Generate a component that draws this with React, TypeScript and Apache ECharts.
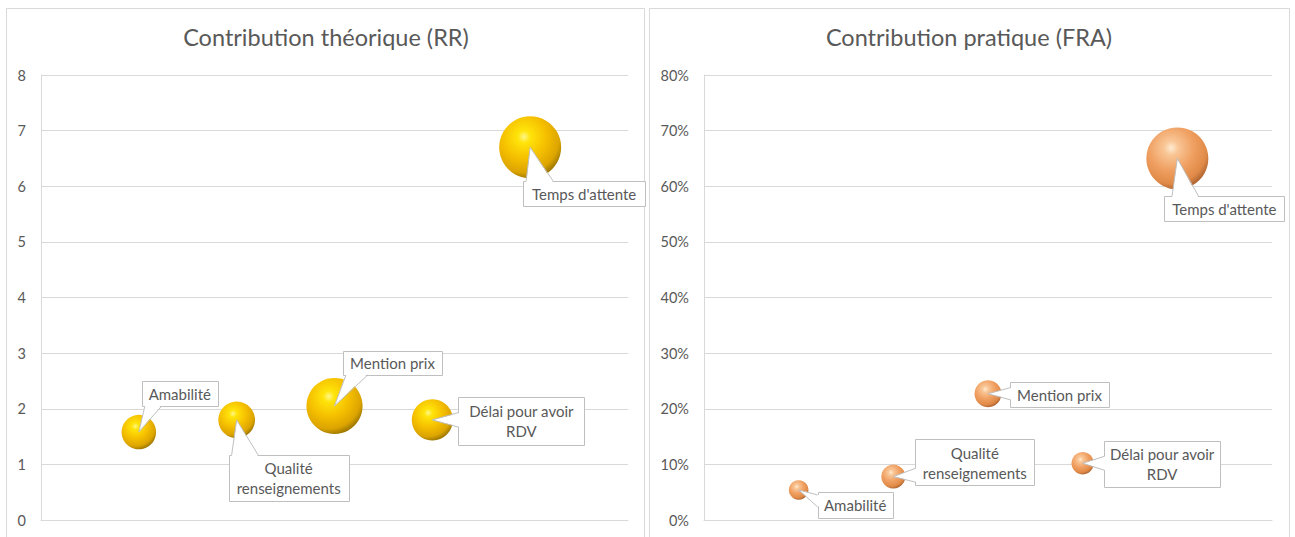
import React, { useEffect, useRef } from 'react';
import * as echarts from 'echarts';

// ---- Data ----
const categories = ['Amabilité', 'Qualité\nrenseignements', 'Mention prix', 'Délai pour avoir\nRDV', "Temps d'attente"];
const xPositions = [1, 2, 3, 4, 5];
const rrValues = [1.58, 1.8, 2.05, 1.8, 6.7];
const rrSizes = [31, 35, 82, 44, 100];
const fraValues = [0.054, 0.078, 0.227, 0.102, 0.65];
const fraSizes = [10, 15, 19, 13, 100];
const rrTitle = 'Contribution théorique (RR)';
const fraTitle = 'Contribution pratique (FRA)';

// ---- Layout (callout offsets from bubble centre: dx, dy, width, height) ----
const rrCallouts = [[41, -38.5, 76, 25], [52, 58, 120, 46], [58, -43, 99, 24], [89, 1, 126, 48], [54, 46, 122, 25]];
const fraCallouts = [[56.5, 15, 75, 26], [81.5, -14.5, 119, 46], [71.5, 0.5, 99, 25], [79.5, 0.5, 116, 46], [47, 50, 120, 25]];

const FONT = 'Lato, "Open Sans", sans-serif';
const TEXT = '#595959';
const LINE = '#D9D9D9';
const MAX_D = 62;

const gold = {
  type: 'radial', x: 0.4, y: 0.33, r: 0.72,
  colorStops: [
    { offset: 0, color: '#FFF78A' },
    { offset: 0.14, color: '#FFE40A' },
    { offset: 0.5, color: '#F5BF00' },
    { offset: 0.8, color: '#DCA400' },
    { offset: 0.95, color: '#9E7800' },
    { offset: 1, color: '#C09600' },
  ],
};
const orange = {
  type: 'radial', x: 0.4, y: 0.33, r: 0.72,
  colorStops: [
    { offset: 0, color: '#FFEBD2' },
    { offset: 0.16, color: '#F9C696' },
    { offset: 0.5, color: '#F0A062' },
    { offset: 0.8, color: '#E08A48' },
    { offset: 0.95, color: '#B06632' },
    { offset: 1, color: '#CC8450' },
  ],
};

const clamp = (v: number, a: number, b: number) => Math.max(a, Math.min(b, v));

function makeCallout(layout: number[][]) {
  return (params: any, api: any) => {
    const idx = params.dataIndex;
    const [px, py] = api.coord([api.value(0), api.value(1)]);
    const [dx, dy, w, h] = layout[idx];
    const cx = px + dx, cy = py + dy;
    const x0 = cx - w / 2, y0 = cy - h / 2, x1 = cx + w / 2, y1 = cy + h / 2;
    const rx = (px - cx) / (w / 2), ry = (py - cy) / (h / 2);
    let b1: number[], b2: number[], n: number[];
    if (Math.abs(rx) > Math.abs(ry)) {
      const ex = rx < 0 ? x0 : x1;
      const half = clamp(h * 0.3, 12, 30) / 2;
      const c = clamp(py, y0 + half + 3, y1 - half - 3);
      b1 = [ex, c - half]; b2 = [ex, c + half];
      n = [rx < 0 ? 1.5 : -1.5, 0];
    } else {
      const ey = ry < 0 ? y0 : y1;
      const half = clamp(w * 0.22, 16, 34) / 2;
      const c = clamp(px + half * 0.6, x0 + half + 3, x1 - half - 3);
      b1 = [c - half, ey]; b2 = [c + half, ey];
      n = [0, ry < 0 ? 1.5 : -1.5];
    }
    return {
      type: 'group',
      children: [
        { type: 'rect', shape: { x: Math.round(x0) + 0.5, y: Math.round(y0) + 0.5, width: Math.round(w), height: Math.round(h) }, style: { fill: '#fff', stroke: '#BFBFBF', lineWidth: 1 } },
        { type: 'polygon', shape: { points: [[px, py], [b1[0] + n[0], b1[1] + n[1]], [b2[0] + n[0], b2[1] + n[1]]] }, style: { fill: '#fff', stroke: null } },
        { type: 'polyline', shape: { points: [b1, [px, py], b2] }, style: { fill: null, stroke: '#BFBFBF', lineWidth: 1 } },
        { type: 'text', style: { text: categories[idx], x: cx, y: cy + 0.5, align: 'center', verticalAlign: 'middle', fill: TEXT, fontSize: 15, fontFamily: FONT, lineHeight: 20 } },
      ],
    };
  };
}

export default function App() {
  const ref = useRef<HTMLDivElement>(null);
  useEffect(() => {
    if (!ref.current) return;
    const chart = echarts.init(ref.current, undefined, { renderer: 'svg' });
    const axisLabel = { color: TEXT, fontSize: 14.5, fontFamily: FONT, margin: 15 };
    const xAxisBase = {
      type: 'value', min: 0, max: 6, interval: 1,
      axisLine: { show: true, lineStyle: { color: LINE } },
      axisTick: { show: false }, axisLabel: { show: false }, splitLine: { show: false },
    };
    const yAxisBase = {
      type: 'value',
      axisLine: { show: true, lineStyle: { color: LINE } },
      axisTick: { show: false },
      splitLine: { show: true, lineStyle: { color: LINE } },
    };
    const titleStyle = { color: TEXT, fontSize: 23.5, fontWeight: 'normal', fontFamily: FONT };
    chart.setOption({
      animation: false,
      backgroundColor: '#fff',
      title: [
        { text: rrTitle, left: 326, top: 25, textAlign: 'center', padding: 0, textStyle: titleStyle },
        { text: fraTitle, left: 969, top: 25, textAlign: 'center', padding: 0, textStyle: titleStyle },
      ],
      graphic: [
        { type: 'rect', silent: true, shape: { x: 6.5, y: 8.5, width: 638, height: 600 }, style: { fill: 'none', stroke: LINE, lineWidth: 1 } },
        { type: 'rect', silent: true, shape: { x: 649.5, y: 8.5, width: 640, height: 600 }, style: { fill: 'none', stroke: LINE, lineWidth: 1 } },
      ],
      grid: [
        { left: 41, top: 75, width: 587, height: 445 },
        { left: 704, top: 75, width: 568, height: 445 },
      ],
      xAxis: [
        { ...xAxisBase, gridIndex: 0 },
        { ...xAxisBase, gridIndex: 1 },
      ],
      yAxis: [
        { ...yAxisBase, gridIndex: 0, min: 0, max: 8, interval: 1, axisLabel },
        { ...yAxisBase, gridIndex: 1, min: 0, max: 0.8, interval: 0.1, axisLabel: { ...axisLabel, formatter: (v: number) => Math.round(v * 100) + '%' } },
      ],
      series: [
        {
          type: 'scatter', xAxisIndex: 0, yAxisIndex: 0, z: 2,
          data: xPositions.map((x, i) => [x, rrValues[i], rrSizes[i]]),
          symbolSize: (v: number[]) => MAX_D * Math.sqrt(v[2] / Math.max(...rrSizes)),
          itemStyle: { color: gold, opacity: 1 },
        },
        {
          type: 'scatter', xAxisIndex: 1, yAxisIndex: 1, z: 2,
          data: xPositions.map((x, i) => [x, fraValues[i], fraSizes[i]]),
          symbolSize: (v: number[]) => MAX_D * Math.sqrt(v[2] / Math.max(...fraSizes)),
          itemStyle: { color: orange, opacity: 1 },
        },
        {
          type: 'custom', xAxisIndex: 0, yAxisIndex: 0, z: 5, clip: false,
          data: xPositions.map((x, i) => [x, rrValues[i]]),
          renderItem: makeCallout(rrCallouts),
        },
        {
          type: 'custom', xAxisIndex: 1, yAxisIndex: 1, z: 5, clip: false,
          data: xPositions.map((x, i) => [x, fraValues[i]]),
          renderItem: makeCallout(fraCallouts),
        },
      ],
    });
    return () => chart.dispose();
  }, []);
  return <div ref={ref} style={{ position: 'absolute', left: 0, top: 0, width: 1295, height: 537 }} />;
}
